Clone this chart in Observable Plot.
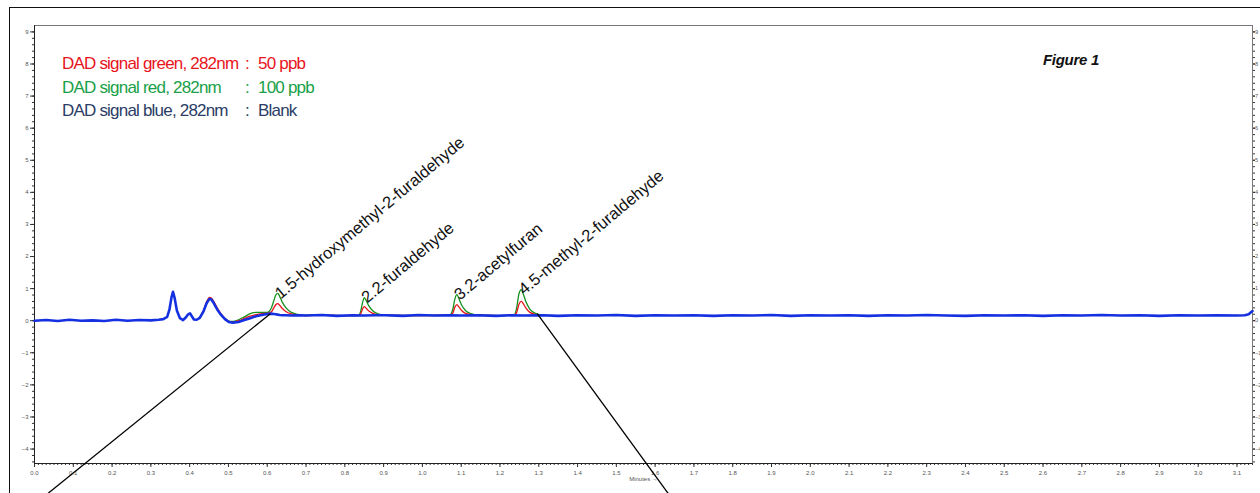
<!DOCTYPE html>
<html><head><meta charset="utf-8">
<script src="https://cdn.jsdelivr.net/npm/d3@7"></script>
<script src="https://cdn.jsdelivr.net/npm/@observablehq/plot@0.6"></script>
<style>
html,body{margin:0;padding:0;background:#fff;overflow:hidden;}
#wrap{position:relative;width:1260px;height:493px;overflow:hidden;}
#outer{position:absolute;left:9px;top:7px;width:1300px;height:600px;border:1.5px solid #111;box-sizing:border-box;pointer-events:none}
.leg{position:absolute;font-family:"Liberation Sans",Arial,sans-serif;font-size:17px;letter-spacing:-0.8px;white-space:nowrap;line-height:1}
#fig{position:absolute;left:1043px;top:52px;font-family:"Liberation Sans",Arial,sans-serif;font-style:italic;font-weight:bold;font-size:15px;letter-spacing:-0.3px;color:#111;line-height:1}
svg{position:absolute;left:0;top:0}
</style></head><body><div id="wrap"></div>
<script>
// ---- data ----
const blankTime = [0.000,0.030,0.060,0.090,0.120,0.150,0.180,0.210,0.240,0.270,0.300,0.320,0.332,0.342,0.348,0.353,0.357,0.361,0.367,0.375,0.383,0.390,0.396,0.401,0.406,0.411,0.418,0.426,0.436,0.444,0.451,0.456,0.462,0.471,0.481,0.491,0.501,0.511,0.526,0.541,0.556,0.571,0.586,0.600,0.610,0.617,0.622,0.627,0.632,0.639,0.649,0.662,0.679,0.700,0.740,0.780,0.820,0.850,0.880,0.905,0.950,0.990,1.030,1.070,1.100,1.145,1.190,1.230,1.260,1.310,1.350,1.400,1.450,1.500,1.550,1.600,1.650,1.700,1.750,1.800,1.850,1.900,1.950,2.000,2.050,2.100,2.150,2.200,2.250,2.300,2.350,2.400,2.450,2.500,2.550,2.600,2.650,2.700,2.750,2.800,2.850,2.900,2.950,3.000,3.050,3.100,3.120,3.130,3.140];
const blankValue = [0.00,0.02,-0.01,0.03,0.00,0.01,-0.01,0.03,0.00,0.02,0.01,0.03,0.05,0.12,0.35,0.72,0.90,0.72,0.32,0.08,0.02,0.10,0.20,0.23,0.13,0.04,0.03,0.09,0.30,0.55,0.68,0.66,0.55,0.35,0.18,0.05,-0.04,-0.06,-0.04,0.02,0.08,0.14,0.18,0.21,0.22,0.21,0.20,0.19,0.18,0.17,0.17,0.16,0.17,0.16,0.18,0.15,0.17,0.16,0.17,0.17,0.15,0.18,0.16,0.17,0.16,0.17,0.15,0.17,0.16,0.17,0.15,0.17,0.16,0.18,0.15,0.17,0.16,0.17,0.15,0.17,0.16,0.18,0.15,0.17,0.16,0.17,0.15,0.17,0.16,0.18,0.16,0.15,0.17,0.16,0.17,0.15,0.17,0.16,0.18,0.16,0.17,0.15,0.17,0.16,0.17,0.16,0.17,0.20,0.30];

const peakTime = [0.426,0.436,0.444,0.451,0.456,0.462,0.471,0.481,0.491,0.501,0.511,0.526,0.541,0.556,0.571,0.586,0.600,0.610,0.617,0.622,0.627,0.632,0.639,0.649,0.662,0.679,0.700,0.740,0.800,0.835,0.841,0.846,0.850,0.855,0.862,0.872,0.886,0.905,0.980,1.070,1.078,1.084,1.089,1.094,1.101,1.111,1.125,1.145,1.200,1.236,1.243,1.249,1.255,1.260,1.267,1.277,1.291,1.310];
const ppb50Value = [0.09,0.33,0.60,0.73,0.71,0.60,0.40,0.21,0.07,-0.02,-0.04,0.00,0.07,0.14,0.19,0.22,0.23,0.27,0.40,0.50,0.53,0.48,0.38,0.28,0.21,0.18,0.16,0.17,0.16,0.16,0.22,0.37,0.44,0.39,0.30,0.23,0.18,0.17,0.16,0.17,0.23,0.43,0.50,0.43,0.32,0.23,0.19,0.17,0.16,0.17,0.26,0.51,0.60,0.53,0.39,0.26,0.20,0.17];
const ppb100Value = [0.09,0.31,0.57,0.70,0.68,0.57,0.37,0.20,0.07,-0.01,-0.02,0.03,0.12,0.22,0.26,0.26,0.26,0.38,0.62,0.80,0.85,0.76,0.57,0.39,0.26,0.20,0.17,0.17,0.16,0.16,0.30,0.58,0.72,0.63,0.46,0.31,0.21,0.17,0.16,0.17,0.34,0.69,0.81,0.69,0.49,0.32,0.22,0.17,0.16,0.17,0.40,0.84,0.97,0.83,0.59,0.36,0.23,0.17];

const peakLabels = ["1.5-hydroxymethyl-2-furaldehyde","2.2-furaldehyde","3.2-acetylfuran","4.5-methyl-2-furaldehyde"];
const peakLabelTime = [0.627,0.850,1.089,1.255];
const peakLabelHeight = [0.85,0.72,0.81,0.97];

const calloutX1 = [0.034,1.296];
const calloutY1 = [-5.39,0.22];
const calloutX2 = [0.608,1.634];
const calloutY2 = [0.22,-5.39];

const legendNames = ["DAD signal green, 282nm","DAD signal red, 282nm","DAD signal blue, 282nm"];
const legendValues = ["50 ppb","100 ppb","Blank"];
const legendColors = ["#e8141c","#19a048","#2b3d66"];
const figureTitle = "Figure 1";
const xTicks = [0.0,0.1,0.2,0.3,0.4,0.5,0.6,0.7,0.8,0.9,1.0,1.1,1.2,1.3,1.4,1.5,1.6,1.7,1.8,1.9,2.0,2.1,2.2,2.3,2.4,2.5,2.6,2.7,2.8,2.9,3.0,3.1];
const yTicks = [-4,-3,-2,-1,0,1,2,3,4,5,6,7,8,9];

// ---- build ----
const blank = blankTime.map((t,i)=>({t, v: blankValue[i]}));
const ppb50 = peakTime.map((t,i)=>({t, v: ppb50Value[i]}));
const ppb100 = peakTime.map((t,i)=>({t, v: ppb100Value[i]}));
const labels = peakLabels.map((s,i)=>({s, t: peakLabelTime[i], v: peakLabelHeight[i]}));
const callouts = calloutX1.map((x,i)=>({x1:x, y1:calloutY1[i], x2:calloutX2[i], y2:calloutY2[i]}));

const minorX = d3.range(0, 3.145, 0.01);
const minorY = d3.range(-4.4, 9.2, 0.2);

const chart = Plot.plot({
  width:1260, height:493,
  marginTop:25, marginRight:8, marginBottom:30, marginLeft:34,
  x:{domain:[0,3.14]},
  y:{domain:[-4.45,9.2]},
  style:{fontFamily:"Liberation Sans, Arial, sans-serif", fontSize:"6px", color:"#444", background:"transparent", overflow:"visible"},
  marks:[
    Plot.frame({stroke:"#777", strokeWidth:1}),
    Plot.axisX({ticks:minorX, tickSize:2, tickFormat:null, text:null, stroke:"#333"}),
    Plot.axisX({ticks:xTicks, tickSize:4, tickPadding:3, tickFormat:d=>d.toFixed(1), stroke:"#333", fill:"#555", label:"Minutes", labelAnchor:"center", labelOffset:17}),
    Plot.axisY({ticks:minorY, tickSize:2, text:null, stroke:"#333"}),
    Plot.axisY({ticks:yTicks, tickSize:4, tickPadding:2, stroke:"#333", fill:"#555", label:null}),
    Plot.axisY({anchor:"right", ticks:minorY, tickSize:2, text:null, stroke:"#333"}),
    Plot.axisY({anchor:"right", ticks:yTicks, tickSize:2, tickPadding:0.5, fontSize:5.5, stroke:"#333", fill:"#555", label:null}),
    Plot.ruleX([0], {stroke:"#222", strokeWidth:1}),
    Plot.ruleY([-4.45], {stroke:"#222", strokeWidth:1}),
    Plot.line(ppb100, {x:"t", y:"v", stroke:"#16901e", strokeWidth:1.3, curve:"monotone-x"}),
    Plot.line(ppb50, {x:"t", y:"v", stroke:"#e8141c", strokeWidth:1.3, curve:"monotone-x"}),
    Plot.line(blank, {x:"t", y:"v", stroke:"#1530e0", strokeWidth:2.6, curve:"linear"}),
    Plot.text(labels, {x:"t", y:"v", text:"s", rotate:-40, textAnchor:"start", lineAnchor:"bottom", dx:3, dy:6, fontSize:16.5, fill:"#111", fontFamily:"Liberation Sans, Arial, sans-serif", style:"letter-spacing:-0.4px"}),
    Plot.link(callouts, {x1:"x1", y1:"y1", x2:"x2", y2:"y2", stroke:"#000", strokeWidth:1.3, clip:false})
  ]
});

const wrap = document.getElementById("wrap");
wrap.appendChild(chart);
const outer = document.createElement("div"); outer.id = "outer"; wrap.appendChild(outer);

const legTops = [55, 78.5, 102];
legendNames.forEach((n,i)=>{
  const a = document.createElement("div"); a.className="leg"; a.style.left="62px"; a.style.top=legTops[i]+"px"; a.style.color=legendColors[i]; a.textContent=n; wrap.appendChild(a);
  const c = document.createElement("div"); c.className="leg"; c.style.left="245px"; c.style.top=legTops[i]+"px"; c.style.color=legendColors[i]; c.textContent=":"; wrap.appendChild(c);
  const b = document.createElement("div"); b.className="leg"; b.style.left="258px"; b.style.top=legTops[i]+"px"; b.style.color=legendColors[i]; b.textContent=legendValues[i]; wrap.appendChild(b);
});
const f = document.createElement("div"); f.id="fig"; f.textContent=figureTitle; wrap.appendChild(f);
</script></body></html>
